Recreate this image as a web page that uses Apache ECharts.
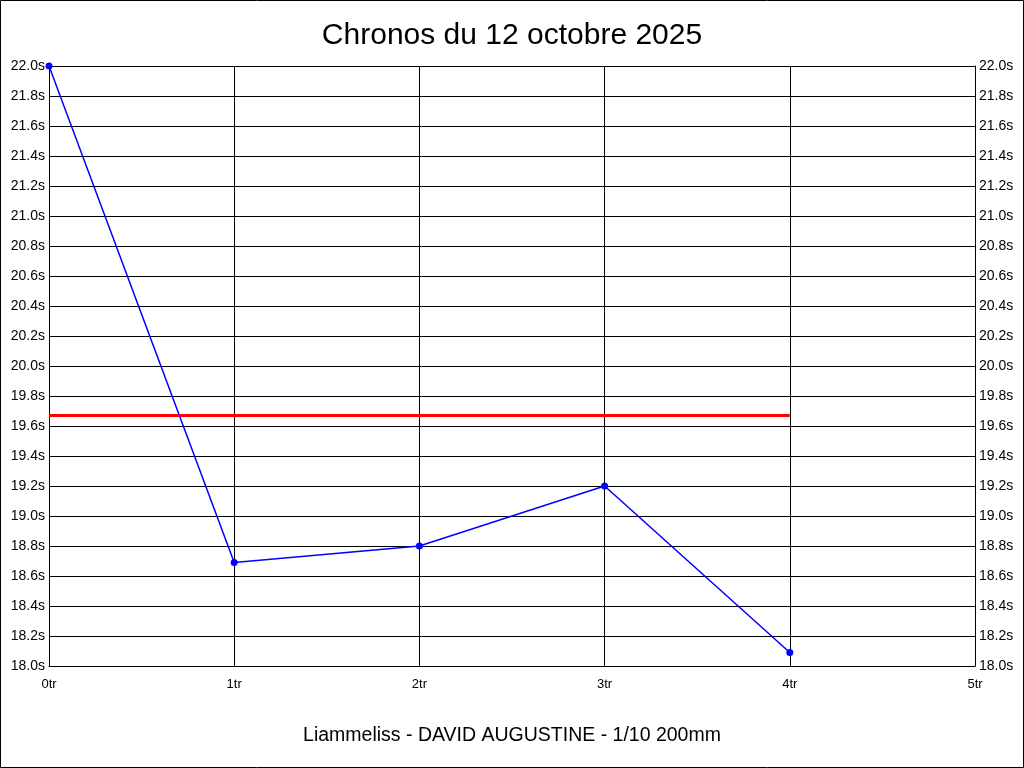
<!DOCTYPE html>
<html>
<head>
<meta charset="utf-8">
<script src="https://cdn.jsdelivr.net/npm/echarts@6/dist/echarts.min.js"></script>
<style>
  html, body { margin: 0; padding: 0; background: #fff; }
  #chart { width: 1024px; height: 768px; }
</style>
</head>
<body>
<div id="chart"></div>
<script>
// tours (x) et chronos (y)
const laps = [0, 1, 2, 3, 4]
const chronos = [22.0, 18.69, 18.80, 19.20, 18.09]
// ligne de moyenne en rouge
const avgSpan = [0, 4]
const avgValue = 19.67

const titleText = 'Chronos du 12 octobre 2025'
const footerText = 'Liammeliss - DAVID AUGUSTINE - 1/10 200mm'

const font = 'Liberation Sans, Arial, sans-serif'

const chart = echarts.init(document.getElementById('chart'))

const yAxisBase = {
  type: 'value',
  min: 18,
  max: 22,
  interval: 0.2,
  axisLine: { show: true, lineStyle: { color: '#000', width: 1 } },
  axisTick: { show: false },
  splitLine: { show: true, lineStyle: { color: '#000', width: 1 } },
  axisLabel: {
    color: '#000',
    fontFamily: font,
    fontSize: 14,
    margin: 4,
    formatter: v => v.toFixed(1) + 's'
  }
}

chart.setOption({
  animation: false,
  backgroundColor: '#fff',
  title: [
    {
      text: titleText,
      left: 'center',
      top: 16,
      textStyle: { color: '#000', fontFamily: font, fontSize: 30, fontWeight: 'normal' }
    },
    {
      text: footerText,
      left: 'center',
      top: 721,
      textStyle: { color: '#000', fontFamily: font, fontSize: 19.5, fontWeight: 'normal' }
    }
  ],
  graphic: [{
    type: 'rect',
    shape: { x: 0.5, y: 0.5, width: 1023, height: 767 },
    style: { fill: 'none', stroke: '#000', lineWidth: 1 },
    silent: true
  }],
  grid: { left: 49, right: 49, top: 66, bottom: 102, containLabel: false },
  xAxis: {
    type: 'value',
    min: 0,
    max: 5,
    interval: 1,
    axisLine: { show: true, onZero: false, lineStyle: { color: '#000', width: 1 } },
    axisTick: { show: false },
    splitLine: { show: true, lineStyle: { color: '#000', width: 1 } },
    axisLabel: {
      color: '#000',
      fontFamily: font,
      fontSize: 13,
      margin: 12,
      formatter: '{value}tr'
    }
  },
  yAxis: [
    Object.assign({}, yAxisBase, { position: 'left' }),
    Object.assign({}, yAxisBase, { position: 'right', splitLine: { show: false } })
  ],
  series: [
    {
      type: 'line',
      data: avgSpan.map(x => [x, avgValue]),
      symbol: 'none',
      lineStyle: { color: '#ff0000', width: 3 },
      z: 3
    },
    {
      type: 'line',
      data: laps.map((x, i) => [x, chronos[i]]),
      symbol: 'circle',
      symbolSize: 7,
      itemStyle: { color: '#0000ff' },
      lineStyle: { color: '#0000ff', width: 1.5 },
      z: 4
    }
  ]
})
</script>
</body>
</html>
